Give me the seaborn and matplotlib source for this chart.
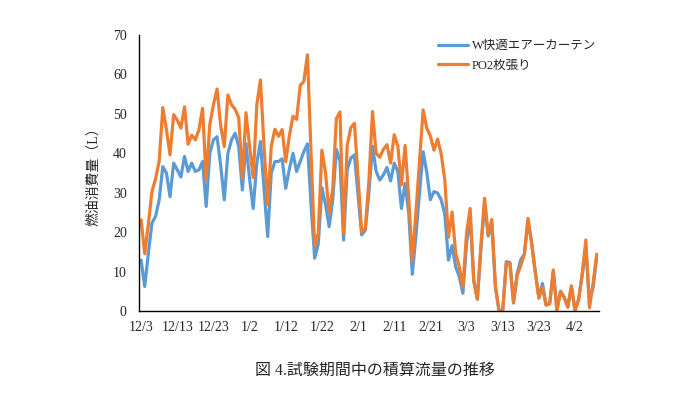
import numpy as np
import pandas as pd
import matplotlib
matplotlib.use('Agg')
import matplotlib.pyplot as plt
import seaborn as sns

# daily fuel use (L), 12/3 .. 4/8
po2 = [23.1, 14.5, 22, 30.3, 33.5, 38, 51.6, 46, 39.6, 49.8,
       48.4, 46.4, 51.8, 42.3, 44.6, 43.4, 46, 51.4, 33.2, 47.3,
       52.3, 56.3, 47, 41.7, 54.8, 52.3, 51.2, 49, 33.5, 50.3,
       41.8, 33.8, 52.3, 58.6, 41.7, 27, 41.8, 46.1, 44.3, 46,
       37.9, 44.4, 49.4, 48.6, 57.2, 58.2, 65, 40, 16.2, 19.8,
       40.8, 35, 24.8, 31, 48.8, 50.5, 19.7, 42, 46.5, 47.6,
       34, 20, 21, 33, 50.6, 40, 39, 41, 42.2, 37.5,
       44.7, 41.8, 32, 42, 29, 12.5, 25, 38, 51, 46.4,
       44.4, 40.8, 43.6, 39.8, 33.2, 18.7, 25.1, 14.6, 11.2, 6,
       19.7, 26, 7.5, 3, 17, 28.6, 19.3, 23.2, 6.2, 0,
       0, 12.1, 12, 2.2, 9, 11.5, 14.4, 23.5, 17, 10,
       3.2, 6, 1.5, 1.8, 10.4, 0, 4.9, 3.5, 1, 6.4,
       0, 2.8, 9.6, 18, 0.8, 7, 14.4]
w_curtain = [12.9, 6.2, 14.6, 22.3, 24, 28.2, 36.6, 35, 29, 37.5,
             35.8, 34, 39.2, 35.4, 37.5, 35.4, 35.8, 37.9, 26.5, 40,
             43.4, 44.2, 37, 28.2, 40, 43.4, 45.1, 41.7, 30.7, 42.5,
             33.5, 26, 37.5, 43, 31, 18.9, 35, 37.9, 37.9, 38.6,
             31.1, 36, 40, 35.4, 37.9, 40.4, 42.4, 27, 13.4, 17,
             31.3, 27, 21.4, 28.2, 41, 38, 18, 35.8, 38.8, 39.6,
             29.5, 19.3, 20.5, 30, 41.8, 35.4, 33.2, 34.5, 36.4, 33,
             37.5, 35.4, 26, 32.4, 25, 9.3, 19, 30, 40.4, 35.2,
             28.2, 30.3, 29.9, 28.2, 24.5, 12.9, 16.6, 11.2, 8.7, 4.5,
             17, 24, 8, 3, 16, 27, 19, 22, 6, 0,
             0, 12.5, 12.3, 2, 9.5, 13, 14.5, 23, 17.5, 10,
             3.5, 7, 1.5, 2, 10, 0.5, 5, 3.5, 1, 6,
             0.5, 3, 9, 16, 2.5, 6, 13.5]
date_labels = ['12/3', '12/13', '12/23', '1/2', '1/12', '1/22', '2/1',
               '2/11', '2/21', '3/3', '3/13', '3/23', '4/2']
names = ['W快適エアーカーテン', 'PO2枚張り']

day = np.arange(len(po2))
df = pd.DataFrame({'day': np.concatenate([day, day]),
                   'fuel': w_curtain + po2,
                   'kind': [names[0]] * len(day) + [names[1]] * len(day)})

sns.set_style('white')
plt.rcParams['font.family'] = ['Liberation Serif', 'Noto Sans CJK JP']

fig = plt.figure(figsize=(7, 3.94), dpi=100)
ax = fig.add_axes([0.199, 0.2107, 0.656, 0.7004])
sns.lineplot(data=df, x='day', y='fuel', hue='kind', ax=ax,
             palette=['#5B9BD5', '#ED7D31'], linewidth=2.3)
for ln in ax.lines:
    ln.set_solid_joinstyle('round')

ax.set_xlim(-0.5, len(po2) - 0.5)
ax.set_ylim(0, 70)
ax.set_yticks(range(0, 71, 10))
ax.set_xticks(range(0, 10 * len(date_labels), 10))
ax.set_xticklabels(date_labels)
ax.tick_params(axis='x', length=0, pad=7, labelsize=10)
ax.tick_params(axis='y', direction='in', length=4, width=0.8, pad=9, labelsize=10)
ax.set_xlabel('')
ax.set_ylabel('燃油消費量（L）', fontsize=10, labelpad=9)
for s in ['top', 'right']:
    ax.spines[s].set_visible(False)
for s in ['left', 'bottom']:
    ax.spines[s].set_color('black')
    ax.spines[s].set_linewidth(1.0)

ax.legend(loc='upper left', bbox_to_anchor=(0.64, 1.0), frameon=False,
          fontsize=9, handlelength=2.4, labelspacing=0.6, borderaxespad=0,
          handletextpad=0.3)

fig.text(0.536, 0.06, '図 4.試験期間中の積算流量の推移', ha='center', va='center', fontsize=11.5)
plt.savefig('out.png', dpi=100)
